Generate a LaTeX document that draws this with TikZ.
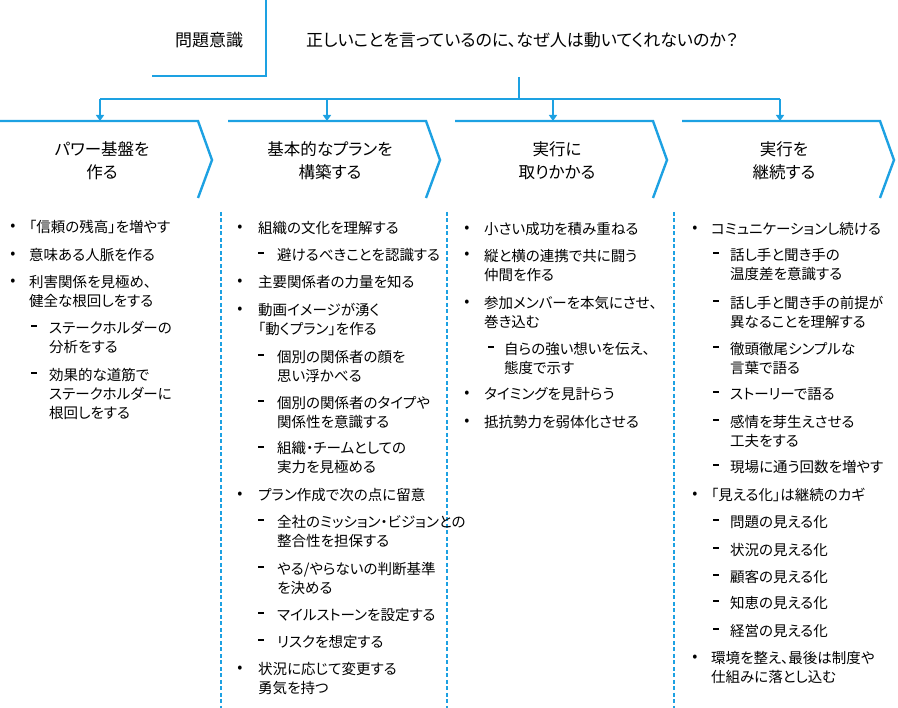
\documentclass[tikz,border=0pt]{standalone}
\usepackage{fontspec}
\setmainfont{Noto Sans CJK JP}[RawFeature={+palt}]
\usetikzlibrary{arrows.meta}
\definecolor{accent}{RGB}{29,161,226}
\newcommand{\Bu}[6]{\node[bul] (#1m) at (#2,#4) {•};\node[item] (#1) at (#3,#5) {#6};}
\newcommand{\Da}[6]{\node[dsh] (#1m) at (#2,#4-2) {\rule{5.5pt}{1.1pt}};\node[item] (#1) at (#3,#5) {#6};}
\begin{document}
\begin{tikzpicture}[x=1pt,y=-1pt,
  frame/.style={draw=accent,line width=2pt},
  conn/.style={draw=accent,line width=2pt},
  arr/.style={draw=accent,line width=2pt,-{Triangle[length=6pt,width=8pt]}},
  chev/.style={draw=accent,line width=2.4pt},
  sep/.style={draw=accent,line width=2.2pt,dash pattern=on 4pt off 2.5pt},
  title/.style={font=\fontsize{17}{21}\selectfont,inner sep=0pt},
  head/.style={font=\fontsize{16.5}{23}\selectfont,align=center,inner sep=0pt},
  item/.style={font=\fontsize{14.5}{19}\selectfont,align=left,anchor=west,inner sep=0pt},
  bul/.style={font=\fontsize{15}{16}\selectfont,inner sep=0pt},
  dsh/.style={inner sep=0pt}]
\useasboundingbox (0,0) rectangle (898,708);
% top
\node[title] (topic) at (209,40) {問題意識};
\node[title,anchor=west] (question) at (306,40) {正しいことを言っているのに、なぜ人は動いてくれないのか？};
\draw[frame] (266,0) -- (266,76) -- (152,76);
\coordinate (hub) at (519,77);
\coordinate (bus) at (519,99);
\coordinate (b1) at (100,99);
\coordinate (b2) at (327,99);
\coordinate (b3) at (553,99);
\coordinate (b4) at (780,99);
\coordinate (t1) at (100,121);
\coordinate (t2) at (327,121);
\coordinate (t3) at (553,121);
\coordinate (t4) at (780,121);
\draw[conn] (hub) -- (bus);
\draw[conn] (b1) -- (b4);
\foreach \i in {1,2,3,4} {\draw[arr] (b\i) -- (t\i);}
% chevrons
\foreach \s in {0,228,455,682} {
  \draw[chev] (\s,121) -- (\s+198,121) -- (\s+212,160) -- (\s+198,198);
}
\node[head] (h1) at (102,160.5) {パワー基盤を\\作る};
\node[head] (h2) at (330,160.5) {基本的なプランを\\構築する};
\node[head] (h3) at (557,160.5) {実行に\\取りかかる};
\node[head] (h4) at (784,160.5) {実行を\\継続する};
% separators
\draw[sep] (221,212) -- (221,708);
\draw[sep] (447,212) -- (447,708);
\draw[sep] (674,212) -- (674,708);
% column 1
\Bu{a1}{13}{29}{227}{227}{「信頼の残高」を増やす}
\Bu{a2}{13}{29}{255}{255}{意味ある人脈を作る}
\Bu{a3}{13}{29}{282}{292}{利害関係を見極め、\\健全な根回しをする}
\Da{a4}{34}{49}{328}{337.5}{ステークホルダーの\\分析をする}
\Da{a5}{34}{49}{375}{394}{効果的な道筋で\\ステークホルダーに\\根回しをする}
% column 2
\Bu{c1}{240}{258}{228}{228}{組織の文化を理解する}
\Da{c2}{261}{277}{255}{255}{避けるべきことを認識する}
\Bu{c3}{240}{258}{282}{282}{主要関係者の力量を知る}
\Bu{c4}{240}{258}{310}{319.5}{動画イメージが湧く\\「動くプラン」を作る}
\Da{c5}{261}{277}{357}{366.5}{個別の関係者の顔を\\思い浮かべる}
\Da{c6}{261}{277}{403}{412.5}{個別の関係者のタイプや\\関係性を意識する}
\Da{c7}{261}{277}{449}{458}{組織・チームとしての\\実力を見極める}
\Bu{c8}{240}{258}{495}{495}{プラン作成で次の点に留意}
\Da{c9}{261}{277}{522}{531.5}{全社のミッション・ビジョンとの\\整合性を担保する}
\Da{c10}{261}{277}{569}{578}{やる/やらないの判断基準\\を決める}
\Da{c11}{261}{277}{615}{615}{マイルストーンを設定する}
\Da{c12}{261}{277}{642}{642}{リスクを想定する}
\Bu{c13}{240}{258}{669}{678.5}{状況に応じて変更する\\勇気を持つ}
% column 3
\Bu{e1}{467}{484}{229}{229}{小さい成功を積み重ねる}
\Bu{e2}{467}{484}{255}{265}{縦と横の連携で共に闘う\\仲間を作る}
\Bu{e3}{467}{484}{303}{312.5}{参加メンバーを本気にさせ、\\巻き込む}
\Da{e4}{491}{504}{349}{358.5}{自らの強い想いを伝え、\\態度で示す}
\Bu{e5}{467}{484}{394}{394}{タイミングを見計らう}
\Bu{e6}{467}{484}{422}{422}{抵抗勢力を弱体化させる}
% column 4
\Bu{g1}{695}{711}{229}{229}{コミュニケーションし続ける}
\Da{g2}{716}{730}{255}{265}{話し手と聞き手の\\温度差を意識する}
\Da{g3}{716}{730}{303}{312.5}{話し手と聞き手の前提が\\異なることを理解する}
\Da{g4}{716}{730}{349}{358.5}{徹頭徹尾シンプルな\\言葉で語る}
\Da{g5}{716}{730}{394}{394}{ストーリーで語る}
\Da{g6}{716}{730}{422}{431.5}{感情を芽生えさせる\\工夫をする}
\Da{g7}{716}{730}{467}{467}{現場に通う回数を増やす}
\Bu{g8}{695}{711}{495}{495}{「見える化」は継続のカギ}
\Da{g9}{716}{730}{522}{522}{問題の見える化}
\Da{g10}{716}{730}{550}{550}{状況の見える化}
\Da{g11}{716}{730}{577}{577}{顧客の見える化}
\Da{g12}{716}{730}{603}{603}{知恵の見える化}
\Da{g13}{716}{730}{631}{631}{経営の見える化}
\Bu{g14}{695}{711}{658}{668}{環境を整え、最後は制度や\\仕組みに落とし込む}
\end{tikzpicture}
\end{document}
